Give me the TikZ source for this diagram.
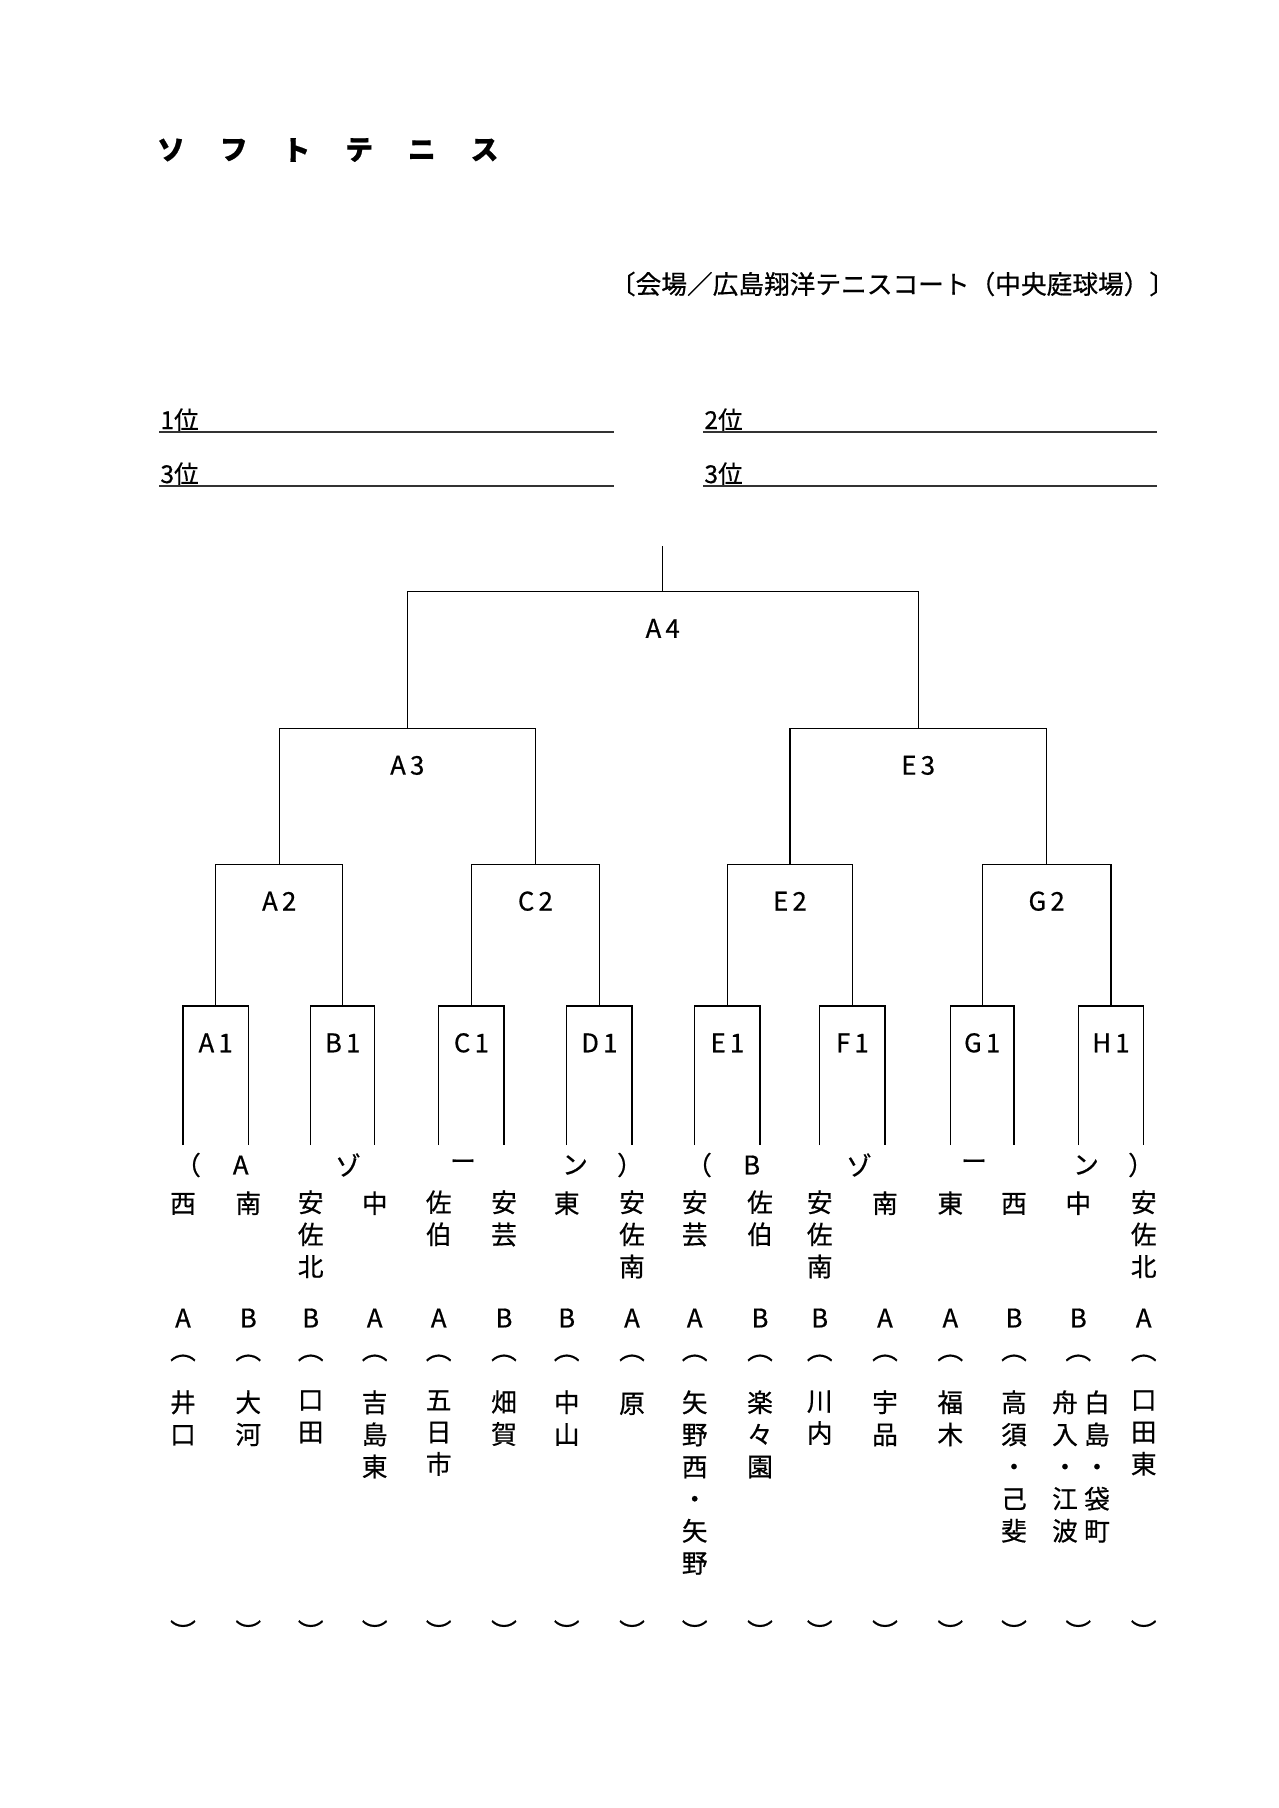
\documentclass[tikz,border=0pt]{standalone}
\usepackage{fontspec}
\setmainfont{Noto Sans CJK JP}[FakeBold=0.6]
\usetikzlibrary{positioning}
\newcommand{\Mt}[2]{#1\kern2pt#2}

\begin{document}
\begin{tikzpicture}[x=0.16419mm, y=-0.16419mm,
             every node/.style={inner sep=0pt, font=\fontsize{12}{15}\selectfont},
             tree/.style={line width=0.6pt},
             rankline/.style={line width=1pt, draw=black!80},
             place/.style={anchor=base west, font=\fontsize{11.5}{13}\selectfont},
             rnd/.style={yshift=-6.05mm},
             tate/.style={anchor=north, align=center, execute at begin node=\strut}]
\useasboundingbox (0,0) rectangle (1279,1808);

%% heading and venue
\foreach \c [count=\k from 0] in {ソ,フ,ト,テ,ニ,ス}
  \node[font=\fontsize{13}{15}\selectfont\bfseries] (ttl\k) at (171+62.7*\k,150) {\c};
\node (venue) at (892.5,284) {〔会場／広島翔洋テニスコート（中央庭球場）〕};

%% places
\node[place] (pl1) at (160,429) {1位};
\node[place] (pl2) at (704,429) {2位};
\node[place] (pl3a) at (160,483) {3位};
\node[place] (pl3b) at (704,483) {3位};
\coordinate (u1a) at (159,432);   \coordinate (u1b) at (613.5,432);
\coordinate (u2a) at (703,432);   \coordinate (u2b) at (1157,432);
\coordinate (u3a) at (159,486);   \coordinate (u3b) at (613.5,486);
\coordinate (u4a) at (703,486);   \coordinate (u4b) at (1157,486);
\draw[rankline] (u1a) -- (u1b);
\draw[rankline] (u2a) -- (u2b);
\draw[rankline] (u3a) -- (u3b);
\draw[rankline] (u4a) -- (u4b);

%% bracket: team ends
\coordinate (t1)  at (183,1145);    \coordinate (t2)  at (248.3,1145);
\coordinate (t3)  at (310.7,1145);  \coordinate (t4)  at (374.7,1145);
\coordinate (t5)  at (438.7,1145);  \coordinate (t6)  at (504,1145);
\coordinate (t7)  at (566.7,1145);  \coordinate (t8)  at (632,1145);
\coordinate (t9)  at (694.7,1145);  \coordinate (t10) at (760,1145);
\coordinate (t11) at (819.7,1145);  \coordinate (t12) at (885,1145);
\coordinate (t13) at (950.3,1145);  \coordinate (t14) at (1014,1145);
\coordinate (t15) at (1078.3,1145); \coordinate (t16) at (1143.7,1145);
%% match points
\coordinate (mA1) at (215.7,1006);  \coordinate (mB1) at (342.7,1006);
\coordinate (mC1) at (471.4,1006);  \coordinate (mD1) at (599.4,1006);
\coordinate (mE1) at (727.4,1006);  \coordinate (mF1) at (852.4,1006);
\coordinate (mG1) at (982.2,1006);  \coordinate (mH1) at (1111,1006);
\coordinate (mA2) at (279.2,864.3); \coordinate (mC2) at (535.4,864.3);
\coordinate (mE2) at (789.9,864.3); \coordinate (mG2) at (1046.6,864.3);
\coordinate (mA3) at (407.3,728.5); \coordinate (mE3) at (918.2,728.5);
\coordinate (mA4) at (662.7,591.5);
\coordinate (win) at (662.7,546);

\draw[tree] (t1) |- (mA1) -| (t2);
\draw[tree] (t3) |- (mB1) -| (t4);
\draw[tree] (t5) |- (mC1) -| (t6);
\draw[tree] (t7) |- (mD1) -| (t8);
\draw[tree] (t9) |- (mE1) -| (t10);
\draw[tree] (t11) |- (mF1) -| (t12);
\draw[tree] (t13) |- (mG1) -| (t14);
\draw[tree] (t15) |- (mH1) -| (t16);
\draw[tree] (mA1) |- (mA2) -| (mB1);
\draw[tree] (mC1) |- (mC2) -| (mD1);
\draw[tree] (mE1) |- (mE2) -| (mF1);
\draw[tree] (mG1) |- (mG2) -| (mH1);
\draw[tree] (mA2) |- (mA3) -| (mC2);
\draw[tree] (mE2) |- (mE3) -| (mG2);
\draw[tree] (mA3) |- (mA4) -| (mE3);
\draw[tree] (mA4) -- (win);

%% match labels
\node[rnd] (lA1) at (mA1) {\Mt{A}{1}};
\node[rnd] (lB1) at (mB1) {\Mt{B}{1}};
\node[rnd] (lC1) at (mC1) {\Mt{C}{1}};
\node[rnd] (lD1) at (mD1) {\Mt{D}{1}};
\node[rnd] (lE1) at (mE1) {\Mt{E}{1}};
\node[rnd] (lF1) at (mF1) {\Mt{F}{1}};
\node[rnd] (lG1) at (mG1) {\Mt{G}{1}};
\node[rnd] (lH1) at (mH1) {\Mt{H}{1}};
\node[rnd] (lA2) at (mA2) {\Mt{A}{2}};
\node[rnd] (lC2) at (mC2) {\Mt{C}{2}};
\node[rnd] (lE2) at (mE2) {\Mt{E}{2}};
\node[rnd] (lG2) at (mG2) {\Mt{G}{2}};
\node[rnd] (lA3) at (mA3) {\Mt{A}{3}};
\node[rnd] (lE3) at (mE3) {\Mt{E}{3}};
\node[rnd] (lA4) at (mA4) {\Mt{A}{4}};

%% zone captions
\foreach \c/\x [count=\k] in {（/188,A/240.7,ゾ/348,ー/463,ン/575,）/630}
  \node (za\k) at (\x,1165) {\c};
\foreach \c/\x [count=\k] in {（/699,B/751.7,ゾ/859,ー/974,ン/1086,）/1141}
  \node (zb\k) at (\x,1165) {\c};

%% schools, groups and brackets
\foreach \i/\x/\sch/\ab in {1/183/西/A, 2/248.3/南/B, 3/310.7/{安\\佐\\北}/B,
    4/374.7/中/A, 5/438.7/{佐\\伯}/A, 6/504/{安\\芸}/B, 7/566.7/東/B,
    8/632/{安\\佐\\南}/A, 9/694.7/{安\\芸}/A, 10/760/{佐\\伯}/B,
    11/819.7/{安\\佐\\南}/B, 12/885/南/A, 13/950.3/東/A, 14/1014/西/B,
    15/1078.3/中/B, 16/1143.7/{安\\佐\\北}/A}
{
  \node[tate] (sch\i) at (\x,1190) {\sch};
  \node (grp\i) at (\x,1318) {\ab};
  \node (op\i) at (\x,1358) {︵};
  \node (cl\i) at (\x,1631) {︶};
}

%% player names
\foreach \x/\nme [count=\k] in {183/{井\\口}, 248.3/{大\\河}, 310.7/{口\\田},
    374.7/{吉\\島\\東}, 438.7/{五\\日\\市}, 504/{畑\\賀}, 566.7/{中\\山},
    632/原, 694.7/{矢\\野\\西\\・\\矢\\野}, 760/{楽\\々\\園}, 819.7/{川\\内},
    885/{宇\\品}, 950.3/{福\\木}, 1014/{高\\須\\・\\己\\斐},
    1065/{舟\\入\\・\\江\\波}, 1097/{白\\島\\・\\袋\\町}, 1143.7/{口\\田\\東}}
  \node[tate] (nme\k) at (\x,1390) {\nme};
\end{tikzpicture}
\end{document}
